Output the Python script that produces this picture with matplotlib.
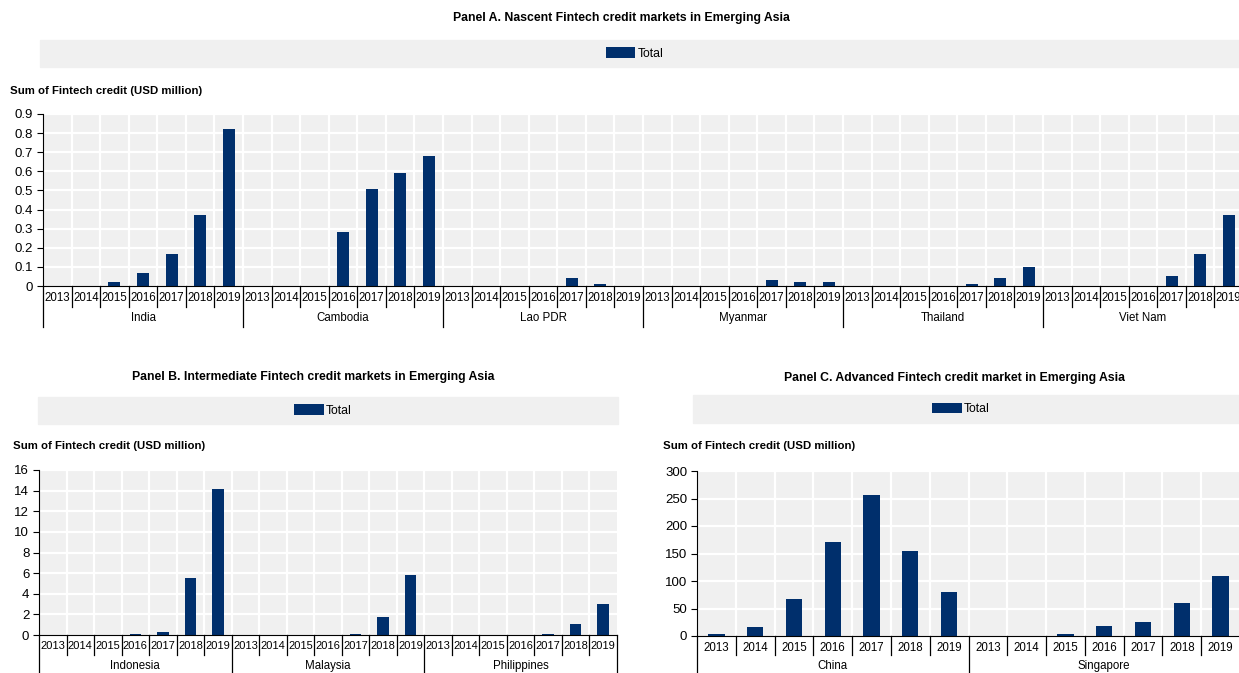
import matplotlib
matplotlib.use("Agg")
import matplotlib.pyplot as plt
import numpy as np
from matplotlib.patches import Rectangle
from matplotlib.lines import Line2D
from matplotlib.transforms import blended_transform_factory

plt.rcParams['font.family'] = ['Liberation Sans', 'DejaVu Sans']

years = ["2013", "2014", "2015", "2016", "2017", "2018", "2019"]

# Panel A: nascent markets (USD million)
countries_a = ["India", "Cambodia", "Lao PDR", "Myanmar", "Thailand", "Viet Nam"]
india = [0, 0, 0.02, 0.07, 0.17, 0.37, 0.82]
cambodia = [0, 0, 0, 0.28, 0.51, 0.59, 0.68]
lao_pdr = [0, 0, 0, 0, 0.04, 0.008, 0]
myanmar = [0, 0, 0, 0, 0.03, 0.02, 0.02]
thailand = [0, 0, 0, 0, 0.01, 0.04, 0.10]
viet_nam = [0, 0, 0, 0, 0.05, 0.17, 0.37]

# Panel B: intermediate markets
countries_b = ["Indonesia", "Malaysia", "Philippines"]
indonesia = [0, 0, 0, 0.1, 0.3, 5.5, 14.2]
malaysia = [0, 0, 0, 0, 0.1, 1.7, 5.8]
philippines = [0, 0, 0, 0, 0.1, 1.1, 3.0]

# Panel C: advanced markets
countries_c = ["China", "Singapore"]
china = [3, 16, 67, 171, 256, 155, 80]
singapore = [0, 0.5, 4, 18, 25, 60, 110]

yticks_a = [0, 0.1, 0.2, 0.3, 0.4, 0.5, 0.6, 0.7, 0.8, 0.9]
yticks_b = [0, 2, 4, 6, 8, 10, 12, 14, 16]
yticks_c = [0, 50, 100, 150, 200, 250, 300]

W, H = 1239, 673
fig = plt.figure(figsize=(W / 100, H / 100), dpi=100)

BAR = '#002F6C'
BG = '#F0F0F0'


def fx(px):
    return px / W


def fy(py):
    return 1 - py / H


def panel(title, title_xy, legend_box, ylabel_xy, plot_box, countries, series,
          yticks, year_sep_bottom, group_sep_bottom, group_label_y, bar_width,
          year_size):
    l, t, r, b = plot_box
    ax = fig.add_axes([fx(l), fy(b), (r - l) / W, (b - t) / H])
    ax.set_facecolor(BG)
    values = [v for s in series for v in s]
    n = len(values)
    x = np.arange(n)
    bars = ax.bar(x, values, width=bar_width, color=BAR, zorder=3, label='Total')
    ax.set_xlim(-0.5, n - 0.5)
    ax.set_ylim(yticks[0], yticks[-1])
    ax.set_yticks(yticks)
    ax.set_yticklabels([f"{v:g}" for v in yticks], fontsize=9.5)
    for yv in yticks[1:]:
        ax.axhline(yv, color='white', lw=1.6, zorder=1)
    for xv in np.arange(1, n) - 0.5:
        ax.axvline(xv, color='white', lw=1.6, zorder=1)
    ax.set_xticks(x)
    ax.set_xticklabels(years * len(countries), fontsize=year_size)
    ax.tick_params(axis='x', length=0, pad=4)
    ax.tick_params(axis='y', direction='out', length=4, width=0.8, pad=3)
    for side in ('top', 'right'):
        ax.spines[side].set_visible(False)
    ax.spines['left'].set_color('black')
    ax.spines['bottom'].set_color('black')
    ax.spines['bottom'].set_zorder(4)

    # category separators below the axis
    tr = blended_transform_factory(ax.transData, fig.transFigure)
    for k in range(n + 1):
        xv = k - 0.5
        bottom = group_sep_bottom if k % 7 == 0 else year_sep_bottom
        fig.add_artist(Line2D([xv, xv], [fy(b), fy(bottom)], transform=tr,
                              color='black', lw=0.9, clip_on=False))
    for g, name in enumerate(countries):
        cx = g * 7 + 3
        fig.text(cx, fy(group_label_y), name, transform=tr,
                 ha='center', va='center', fontsize=8.3)

    # title, legend strip, axis caption
    bl, bt, br, bb = legend_box
    fig.text(fx(title_xy[0]), fy(title_xy[1]), title, ha='center', va='center',
             fontsize=8.8, weight='bold')
    fig.add_artist(Rectangle((fx(bl), fy(bb)), (br - bl) / W, (bb - bt) / H,
                             transform=fig.transFigure, color=BG, zorder=-1))
    fig.legend(handles=[bars], labels=['Total'], loc='center',
               bbox_to_anchor=(fx((bl + br) / 2 - 5), fy((bt + bb) / 2)),
               frameon=False, fontsize=8.8, handlelength=2.4, handleheight=0.9,
               handletextpad=0.2, borderpad=0)
    fig.text(fx(ylabel_xy[0]), fy(ylabel_xy[1]),
             "Sum of Fintech credit (USD million)", ha='left', va='center',
             fontsize=8.2, weight='bold')
    return ax


panel("Panel A. Nascent Fintech credit markets in Emerging Asia", (621, 18),
      (40, 40, 1239, 67), (10, 91), (43, 114, 1243, 286), countries_a,
      [india, cambodia, lao_pdr, myanmar, thailand, viet_nam], yticks_a,
      307, 327, 318, 0.42, 8.3)

panel("Panel B. Intermediate Fintech credit markets in Emerging Asia", (313, 377),
      (38, 397, 618, 424), (13, 446), (39, 470, 617, 635), countries_b,
      [indonesia, malaysia, philippines], yticks_b,
      655, 680, 666, 0.42, 8.0)

panel("Panel C. Advanced Fintech credit market in Emerging Asia", (954, 378),
      (693, 395, 1239, 423), (663, 446), (697, 471, 1240, 636), countries_c,
      [china, singapore], yticks_c,
      655, 680, 666, 0.42, 8.3)

fig.savefig("out.png", dpi=100)
